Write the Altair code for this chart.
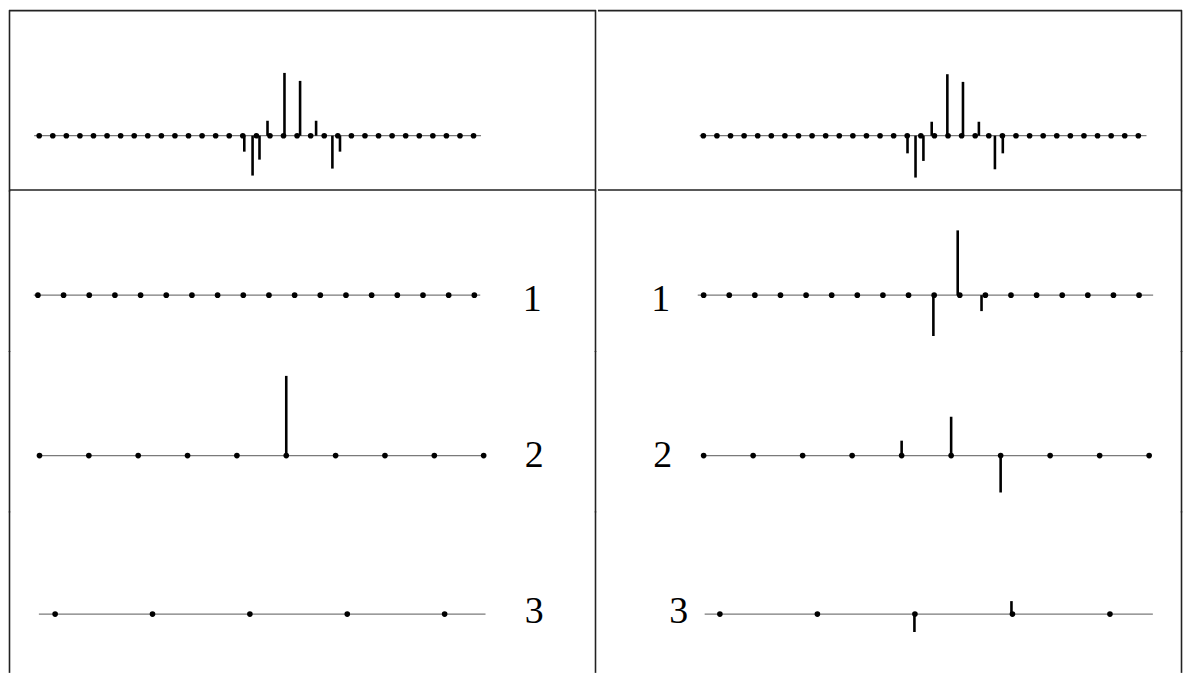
import altair as alt
import pandas as pd

# ---------------- data ----------------
# Top row: two original signals (33 samples each, stems at fractional positions)
sig_left_n = 33
sig_left_stem_pos = [15.11, 15.72, 16.23, 16.82, 18.07, 19.22, 20.40, 21.60, 22.16]
sig_left_stem_val = [-16, -40, -24, 15, 63, 55, 15, -33, -16]
sig_left_line = [-0.37, 32.55]

sig_right_n = 33
sig_right_stem_pos = [15.02, 15.61, 16.19, 16.80, 17.95, 19.10, 20.27, 21.45, 22.03]
sig_right_stem_val = [-17.7, -42, -25.3, 14, 61.7, 54, 14, -33.7, -17.7]
sig_right_line = [-0.27, 32.6]

# Level labels
level_labels = ["1", "2", "3"]

# Left column, levels 1..3
lev_left_n = [18, 10, 5]
lev_left_stem_pos = [[], [5], []]
lev_left_stem_val = [[], [80], []]
lev_left_line = [[-0.16, 17.23], [-0.03, 9.0], [-0.167, 4.42]]

# Right column, levels 1..3
lev_right_n = [18, 10, 5]
lev_right_stem_pos = [[8.97, 9.92, 10.85], [4, 5, 6], [1.995, 2.99]]
lev_right_stem_val = [[-41, 65, -16], [15, 39, -37], [-18, 13]]
lev_right_line = [[-0.23, 17.55], [0.0, 9.02], [-0.156, 4.44]]

# ---------------- layout (styles) ----------------
W_L, W_R = 589, 586
H_TOP, H_ROW = 181, 161
BORDER = "#222222"
BASE_COLOR = "#7a7a7a"


def rule(x=None, y=None, W=0, H=0):
    d = alt.Data(values=[{"k": 0}])
    if x is not None:
        enc = dict(x=alt.value(x), y=alt.value(0), y2=alt.value(H + 1))
    else:
        enc = dict(x=alt.value(0), x2=alt.value(W), y=alt.value(y))
    return alt.Chart(d).mark_rule(color=BORDER, strokeWidth=1.6).encode(**enc)


def panel(n, spos, sval, line, x0, step, W, H, base, label=None, lab_xy=None, borders=()):
    xs = alt.Scale(domain=[0, n - 1], range=[x0, x0 + step * (n - 1)], nice=False, zero=False)
    ys = alt.Scale(domain=[-(H - base), base], nice=False, zero=False)
    X = lambda f: alt.X(f, type="quantitative", scale=xs, axis=None)
    Y = lambda f: alt.Y(f, type="quantitative", scale=ys, axis=None)

    line_df = pd.DataFrame({"a": [line[0]], "b": [line[1]], "z": [0]})
    base_l = alt.Chart(line_df).mark_rule(color=BASE_COLOR, strokeWidth=1.3).encode(
        x=X("a"), x2="b", y=Y("z"))
    layers = [base_l]
    if spos:
        sdf = pd.DataFrame({"i": spos, "v": sval, "z": [0] * len(spos)})
        layers.append(alt.Chart(sdf).mark_rule(color="black", strokeWidth=2.6).encode(
            x=X("i"), y=Y("v"), y2="z"))
    ddf = pd.DataFrame({"i": list(range(n)), "z": [0] * n})
    layers.append(alt.Chart(ddf).mark_circle(color="black", size=32, opacity=1).encode(
        x=X("i"), y=Y("z")))
    if label is not None:
        tdf = pd.DataFrame({"t": [label]})
        layers.append(alt.Chart(tdf).mark_text(
            font="Liberation Serif", fontSize=38, align="center", baseline="middle",
            color="black").encode(x=alt.value(lab_xy[0]), y=alt.value(lab_xy[1]), text="t:N"))
    for b in borders:
        if b == "top":
            layers.append(rule(y=0.5, W=W))
        elif b == "bottom":
            layers.append(rule(y=H - 0.5, W=W))
        elif b == "left":
            layers.append(rule(x=0.5, H=H))
        elif b == "right":
            layers.append(rule(x=W - 0.5, H=H))
    return alt.layer(*layers).properties(width=W, height=H)


left_panels = [
    panel(sig_left_n, sig_left_stem_pos, sig_left_stem_val, sig_left_line,
          30.3, 13.62, W_L, H_TOP, 126, borders=("top", "bottom", "left", "right"))
]
right_panels = [
    panel(sig_right_n, sig_right_stem_pos, sig_right_stem_val, sig_right_line,
          105.7, 13.64, W_R, H_TOP, 126, borders=("top", "bottom", "right"))
]

left_x0 = [29, 30.6, 46.3]
left_step = [25.76, 49.52, 97.7]
right_x0 = [106, 106, 122.3]
right_step = [25.7, 49.67, 97.85]
row_base = [105, 105, 103]
left_lab = [(525, 110), (527, 105), (527, 101)]
right_lab = [(63, 110), (65, 105), (81, 101)]

for k in range(3):
    left_panels.append(panel(lev_left_n[k], lev_left_stem_pos[k], lev_left_stem_val[k],
                             lev_left_line[k], left_x0[k], left_step[k], W_L, H_ROW,
                             row_base[k], level_labels[k], left_lab[k],
                             borders=("left", "right")))
    right_panels.append(panel(lev_right_n[k], lev_right_stem_pos[k], lev_right_stem_val[k],
                              lev_right_line[k], right_x0[k], right_step[k], W_R, H_ROW,
                              row_base[k], level_labels[k], right_lab[k],
                              borders=("right",)))

chart = alt.hconcat(
    alt.vconcat(*left_panels, spacing=0, bounds="flush"),
    alt.vconcat(*right_panels, spacing=0, bounds="flush"),
    spacing=0,
).properties(padding=0, background="white").configure_view(stroke=None)

chart.save("out.html", embed_options={"renderer": "svg", "actions": False})
